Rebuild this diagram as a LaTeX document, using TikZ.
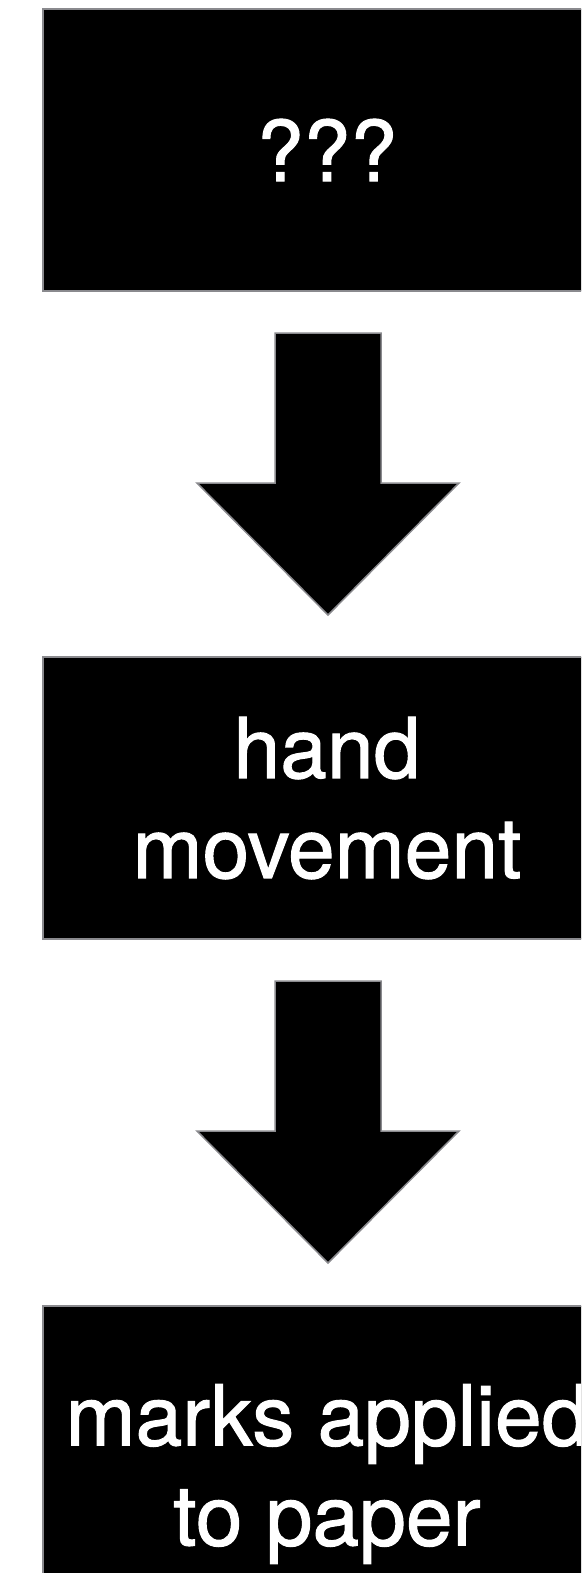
\documentclass[tikz,border=0pt]{standalone}
\usepackage{fontspec}
\setmainfont{TeX Gyre Heros}
\newfontfamily\boxfont{TeX Gyre Heros}[FakeBold=1.2]
\usepackage{tikz}
\usetikzlibrary{calc,positioning}
\definecolor{fc-edge}{HTML}{8A8A8E}

\begin{document}
\begin{tikzpicture}[x=1pt,y=1pt,
    stepbox/.style={draw=fc-edge, line width=2pt, fill=black, text=white,
        minimum width=568pt, minimum height=282pt, inner sep=0pt,
        align=center, font=\boxfont\fontsize{84}{100}\selectfont},
    blockarrow/.style={draw=fc-edge, line width=1.5pt, fill=black, line join=miter}]
    \clip (0,0) rectangle (581,-1573);
    \node[stepbox] (cause) at (327,-150) {???};
    \node[stepbox, below=364pt of cause] (hand) {hand\\movement};
    \node[stepbox, below=365pt of hand, minimum height=336pt] (marks) {marks applied\\to paper};
    % arrows between the boxes
    \draw[blockarrow] ($(cause.south)+(-52,-41)$) -- ++(106,0) -- ++(0,-150) -- ++(78,0)
        -- ++(-131,-132) -- ++(-131,132) -- ++(78,0) -- cycle;
    \draw[blockarrow] ($(hand.south)+(-52,-41)$) -- ++(106,0) -- ++(0,-150) -- ++(78,0)
        -- ++(-131,-132) -- ++(-131,132) -- ++(78,0) -- cycle;
\end{tikzpicture}
\end{document}
